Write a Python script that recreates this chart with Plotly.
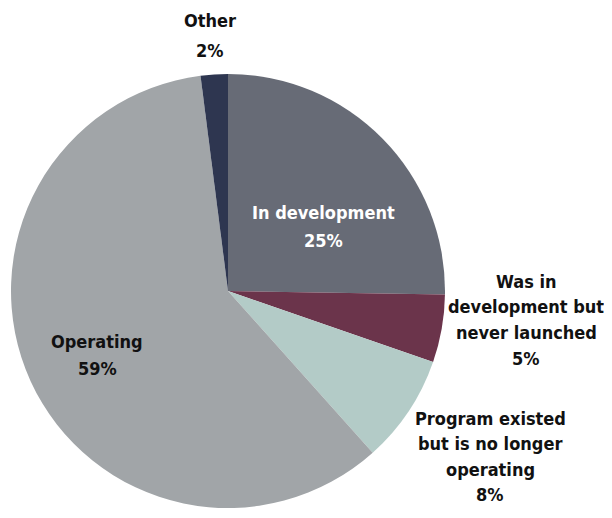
import plotly.graph_objects as go

labels = ["In development", "Was in development but never launched",
          "Program existed but is no longer operating", "Operating", "Other"]
values = [25, 5, 8, 59, 2]
colors = ["#676b76", "#6b344b", "#b3cbc7", "#a1a5a8", "#2e3650"]

# page body has an 8px margin, so the figure is a bit smaller and offset
OFF = 8
W, H = 612 - 2 * OFF, 518 - 2 * OFF


def px(x):
    return (x - OFF) / W


def py(y):
    return 1 - (y - OFF) / H


fig = go.Figure(go.Pie(
    labels=labels, values=values, sort=False, direction="clockwise",
    rotation=0, marker=dict(colors=colors, line=dict(width=0)),
    textinfo="none", hoverinfo="label+percent",
    domain=dict(x=[px(11), px(445)], y=[py(508), py(74)]),
))

# label lines, centre x, first line y, line spacing, font colour
notes = [
    (["Other", "2%"], 210, 21, 29, "#111111"),
    (["In development", "25%"], 323, 212, 28, "white"),
    (["Was in", "development but", "never launched", "5%"], 526, 281, 25.7, "#111111"),
    (["Program existed", "but is no longer", "operating", "8%"], 490, 418, 25.5, "#111111"),
    (["Operating", "59%"], 97, 341, 27, "#111111"),
]
for lines, x, y0, dy, col in notes:
    for i, line in enumerate(lines):
        fig.add_annotation(text="<b>" + line + "</b>",
                           x=px(x), y=py(y0 + i * dy), xref="paper", yref="paper",
                           showarrow=False, xanchor="center", yanchor="middle",
                           font=dict(family="DejaVu Sans Condensed, sans-serif",
                                     size=18, color=col))

fig.update_layout(width=W, height=H, margin=dict(l=0, r=0, t=0, b=0),
                  showlegend=False, paper_bgcolor="white")
fig.write_html("out.html")
